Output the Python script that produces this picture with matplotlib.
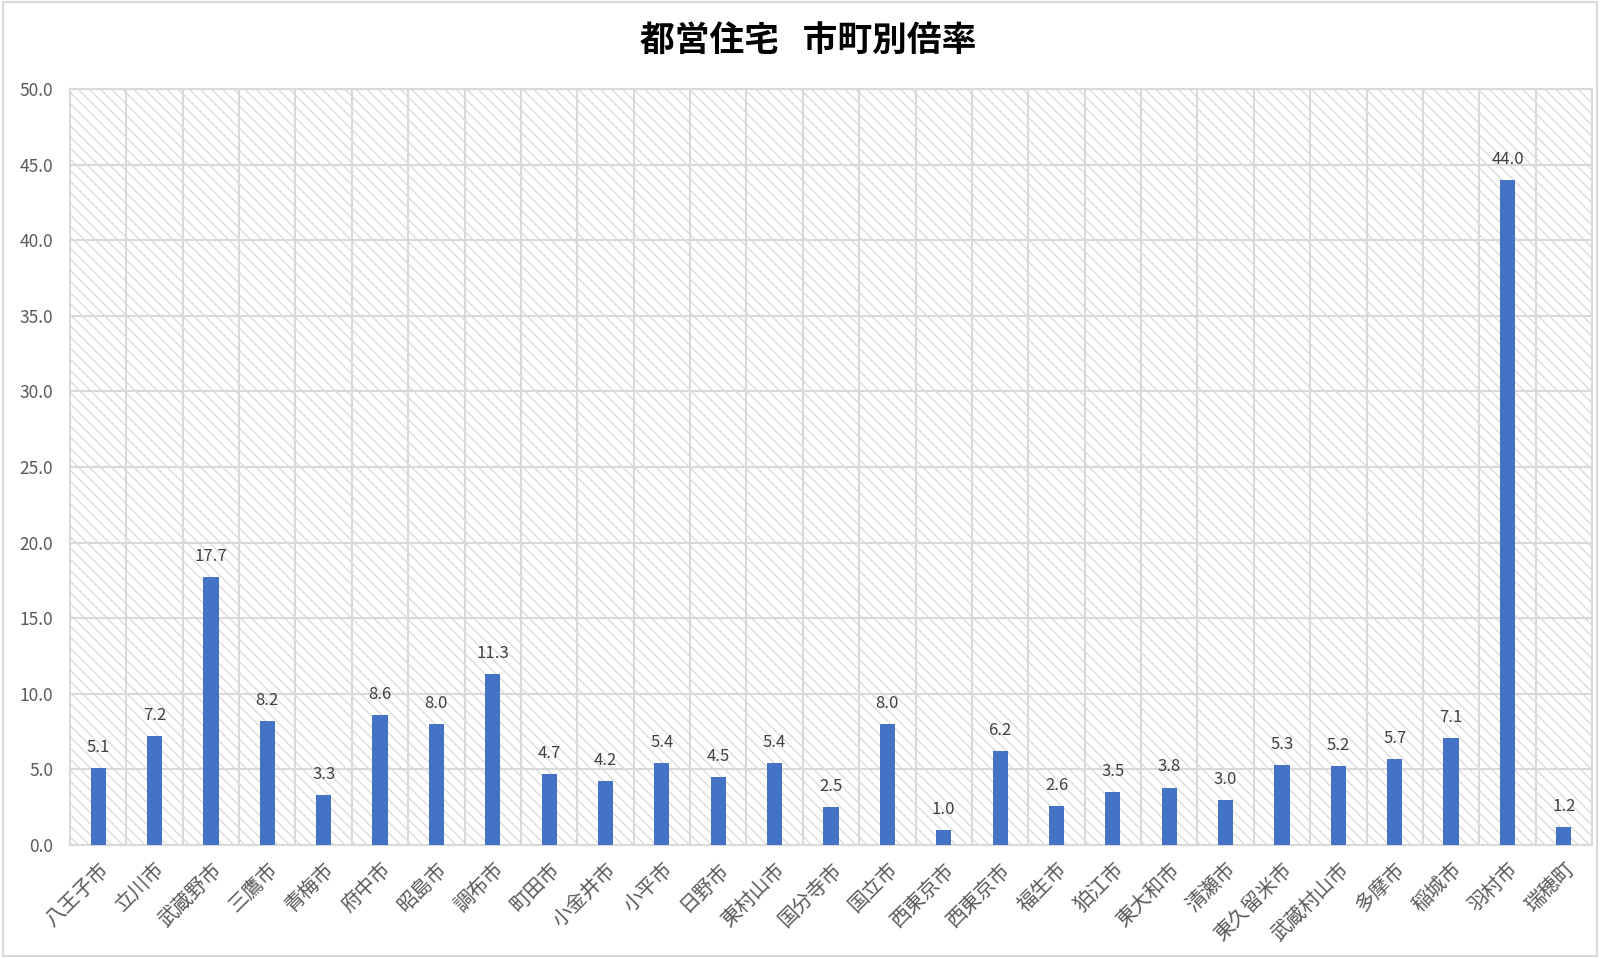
import matplotlib
matplotlib.use("Agg")
import matplotlib.pyplot as plt
from matplotlib.patches import Rectangle
import numpy as np

plt.rcParams['font.family'] = ['Noto Sans CJK JP', 'DejaVu Sans']
plt.rcParams['hatch.color'] = '#d9d9d9'
plt.rcParams['hatch.linewidth'] = 0.9

# data
cities = ['八王子市', '立川市', '武蔵野市', '三鷹市', '青梅市', '府中市', '昭島市',
          '調布市', '町田市', '小金井市', '小平市', '日野市', '東村山市', '国分寺市',
          '国立市', '西東京市', '西東京市', '福生市', '狛江市', '東大和市', '清瀬市',
          '東久留米市', '武蔵村山市', '多摩市', '稲城市', '羽村市', '瑞穂町']
ratios = [5.1, 7.2, 17.7, 8.2, 3.3, 8.6, 8.0, 11.3, 4.7, 4.2, 5.4, 4.5, 5.4, 2.5,
          8.0, 1.0, 6.2, 2.6, 3.5, 3.8, 3.0, 5.3, 5.2, 5.7, 7.1, 44.0, 1.2]
yticks = [0, 5, 10, 15, 20, 25, 30, 35, 40, 45, 50]

grid_col = '#d9d9d9'
text_col = '#595959'

fig = plt.figure(figsize=(16, 9.58), dpi=100)
fig.patches.append(Rectangle((0.002, 0.002), 0.996, 0.996, transform=fig.transFigure,
                             fill=False, edgecolor=grid_col, linewidth=1.5))

ax = fig.add_axes([70 / 1600, 1 - 845 / 958, 1522 / 1600, 756 / 958])

x = np.arange(len(cities))
# hatched background
ax.add_patch(Rectangle((0, 0), 1, 1, transform=ax.transAxes, facecolor='white',
                       edgecolor='#d9d9d9', hatch='\\\\\\', linewidth=0, zorder=0))

bars = ax.bar(x, ratios, width=0.27, color='#4472C4', zorder=3)

for xi, v in zip(x, ratios):
    ax.text(xi, v + 0.8, f'{v:.1f}', ha='center', va='bottom', fontsize=12,
            color='#404040', zorder=4)

ax.set_xlim(-0.5, len(cities) - 0.5)
ax.set_ylim(0, 50)
ax.set_yticks(yticks)
ax.set_yticklabels([f'{t:.1f}' for t in yticks])
ax.set_xticks(x)
ax.set_xticklabels(cities, rotation=45, ha='right', rotation_mode='anchor')
ax.set_xticks(np.arange(len(cities) + 1) - 0.5, minor=True)

ax.tick_params(axis='both', length=0, colors=text_col, labelsize=12.5)
ax.tick_params(axis='x', pad=10, labelsize=14.5)
ax.tick_params(axis='y', pad=12)
ax.tick_params(which='minor', length=0)

ax.grid(axis='y', which='major', color=grid_col, linewidth=1.5, zorder=1)
ax.grid(axis='x', which='minor', color=grid_col, linewidth=1.5, zorder=1)
ax.grid(axis='x', which='major', visible=False)
ax.set_axisbelow(True)

for s in ax.spines.values():
    s.set_color(grid_col)
    s.set_linewidth(1.5)

fig.text(0.505, 0.958, '都営住宅   市町別倍率', ha='center', va='center',
         fontsize=25, fontweight='bold', color='#000000')

fig.savefig('out.png', dpi=100)
